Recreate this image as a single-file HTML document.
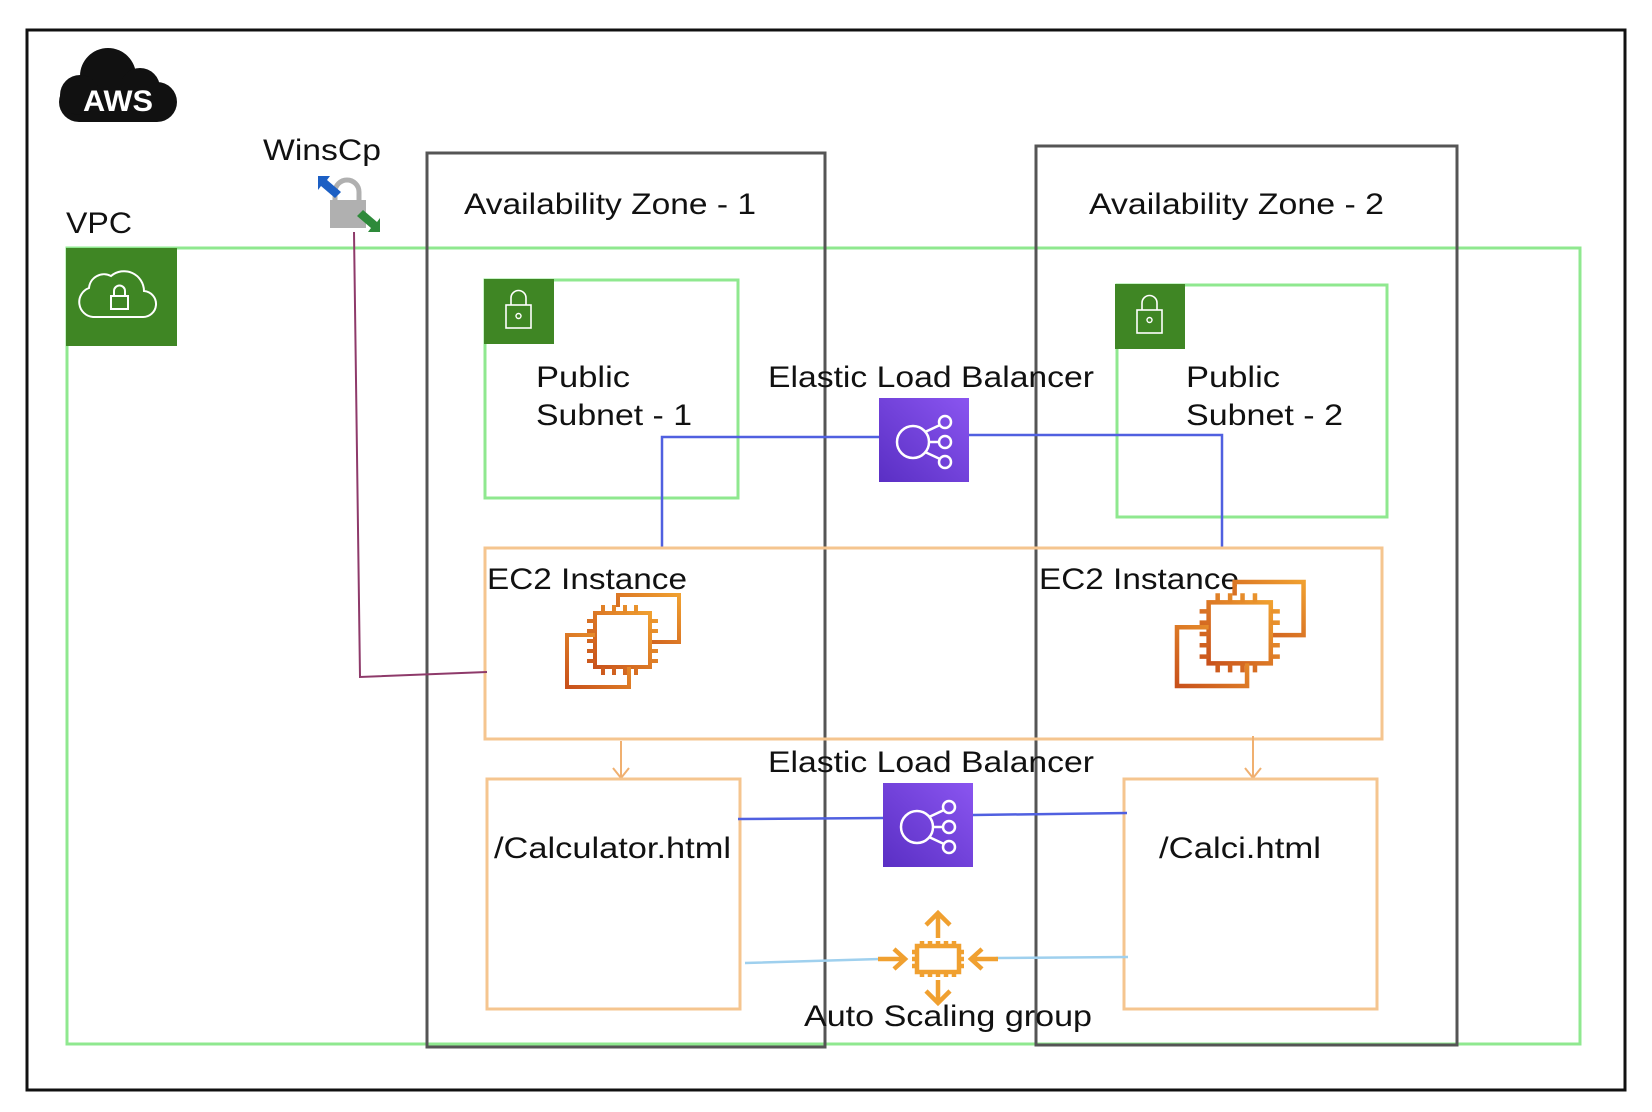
<!DOCTYPE html>
<html><head><meta charset="utf-8"><style>
html,body{margin:0;padding:0;background:#fff;}
svg{display:block;}
text{font-family:"Liberation Sans",sans-serif;fill:#111;}
</style></head><body>
<svg width="1652" height="1112" viewBox="0 0 1652 1112" xmlns="http://www.w3.org/2000/svg">
<defs>
<linearGradient id="pg" x1="0" y1="1" x2="1" y2="0"><stop offset="0" stop-color="#5a2fc4"/><stop offset="1" stop-color="#8a55f0"/></linearGradient>
<linearGradient id="og" x1="0" y1="1" x2="1" y2="0"><stop offset="0" stop-color="#c8511b"/><stop offset="1" stop-color="#f0a030"/></linearGradient>
<g id="ec2" fill="none" stroke="url(#og)" stroke-width="4">
<path d="M51,12 V0 H112 V47 H83"/>
<rect x="28" y="18" width="55" height="54"/>
<path d="M28,40 H0 V92 H62 V72"/>
<path d="M36,18 v-8 M47,18 v-8 M58,18 v-8 M69,18 v-8 M36,72 v8 M47,72 v8 M58,72 v8 M69,72 v8 M28,26 h-8 M28,36 h-8 M28,46 h-8 M28,56 h-8 M28,66 h-8 M83,26 h8 M83,36 h8 M83,56 h8 M83,66 h8"/>
</g>
<g id="elb">
<rect x="0" y="0" width="90" height="84" fill="url(#pg)"/>
<g fill="none" stroke="#fff" stroke-width="2.5">
<circle cx="34" cy="44" r="16"/>
<circle cx="66" cy="24" r="6"/><circle cx="66" cy="44" r="6"/><circle cx="66" cy="64" r="6"/>
<path d="M46,34 L61,27 M50,44 H60 M46,54 L61,61"/>
</g>
</g>
</defs>

<rect x="27" y="30" width="1598" height="1060" fill="none" stroke="#111" stroke-width="3"/>

<!-- AWS cloud -->
<g fill="#111">
<circle cx="108" cy="76" r="28"/>
<circle cx="140" cy="88" r="20"/>
<rect x="59" y="82" width="118" height="40" rx="20"/>
<circle cx="80" cy="95" r="20"/>
</g>
<text x="118" y="111" text-anchor="middle" font-size="30" font-weight="bold" style="fill:#fff" textLength="70" lengthAdjust="spacingAndGlyphs">AWS</text>

<!-- WinsCp -->
<text x="263" y="160" font-size="30" textLength="118" lengthAdjust="spacingAndGlyphs">WinsCp</text>
<path d="M335,204 v-12 a12,12 0 0 1 24,0 v12" fill="none" stroke="#b0b0b0" stroke-width="5"/>
<rect x="330" y="200" width="36" height="28" fill="#b0b0b0"/>
<path d="M318,176 l12,0 l-3,4 l14,12 l-6,6 l-14,-12 l-3,4 z" fill="#1c5fc4"/>
<path d="M380,232 l-12,0 l3,-4 l-14,-12 l6,-6 l14,12 l3,-4 z" fill="#2e8a3a"/>

<!-- VPC -->
<text x="66" y="233" font-size="30" textLength="66" lengthAdjust="spacingAndGlyphs">VPC</text>
<rect x="67" y="248" width="1513" height="796" fill="none" stroke="#8fe88f" stroke-width="3"/>
<rect x="66" y="248" width="111" height="98" fill="#3f8624"/>
<path d="M93,317 h49 a13,13 0 0 0 2,-26 a20,20 0 0 0 -33,-15 a15,15 0 0 0 -22,12 a15,15 0 0 0 4,29 z" fill="none" stroke="#fff" stroke-width="2"/>
<rect x="111" y="296" width="17" height="13" fill="none" stroke="#fff" stroke-width="2"/>
<path d="M114,296 v-5 a5,5 0 0 1 11,0 v5" fill="none" stroke="#fff" stroke-width="2"/>

<!-- AZ boxes -->
<rect x="427" y="153" width="398" height="894" fill="none" stroke="#555" stroke-width="3"/>
<rect x="1036" y="146" width="421" height="899" fill="none" stroke="#555" stroke-width="3"/>
<text x="464" y="214" font-size="30" textLength="292" lengthAdjust="spacingAndGlyphs">Availability Zone - 1</text>
<text x="1089" y="214" font-size="30" textLength="295" lengthAdjust="spacingAndGlyphs">Availability Zone - 2</text>

<!-- subnets -->
<rect x="485" y="280" width="253" height="218" fill="none" stroke="#8fe88f" stroke-width="3"/>
<rect x="484" y="279" width="70" height="65" fill="#3f8624"/>
<rect x="506" y="305" width="25" height="23" fill="none" stroke="#fff" stroke-width="1.6"/>
<path d="M511,305 v-7 a7.5,7.5 0 0 1 15,0 v7" fill="none" stroke="#fff" stroke-width="1.6"/>
<circle cx="518.5" cy="316" r="2.5" fill="none" stroke="#fff" stroke-width="1.4"/>
<text x="536" y="387" font-size="30" textLength="94" lengthAdjust="spacingAndGlyphs">Public</text>
<text x="536" y="425" font-size="30" textLength="156" lengthAdjust="spacingAndGlyphs">Subnet - 1</text>

<rect x="1117" y="285" width="270" height="232" fill="none" stroke="#8fe88f" stroke-width="3"/>
<rect x="1115" y="284" width="70" height="65" fill="#3f8624"/>
<rect x="1137" y="310" width="25" height="23" fill="none" stroke="#fff" stroke-width="1.6"/>
<path d="M1142,310 v-7 a7.5,7.5 0 0 1 15,0 v7" fill="none" stroke="#fff" stroke-width="1.6"/>
<circle cx="1149.5" cy="320" r="2.5" fill="none" stroke="#fff" stroke-width="1.4"/>
<text x="1186" y="387" font-size="30" textLength="94" lengthAdjust="spacingAndGlyphs">Public</text>
<text x="1186" y="425" font-size="30" textLength="157" lengthAdjust="spacingAndGlyphs">Subnet - 2</text>

<!-- ELB 1 -->
<text x="768" y="387" font-size="30" textLength="326" lengthAdjust="spacingAndGlyphs">Elastic Load Balancer</text>
<path d="M662,547 V437 H879 M969,435 H1222 V547" fill="none" stroke="#5060e0" stroke-width="2.5"/>
<use href="#elb" x="879" y="398"/>

<!-- EC2 group -->
<rect x="485" y="548" width="897" height="191" fill="none" stroke="#f5c58f" stroke-width="3"/>
<text x="487" y="589" font-size="30" textLength="200" lengthAdjust="spacingAndGlyphs">EC2 Instance</text>
<text x="1039" y="589" font-size="30" textLength="200" lengthAdjust="spacingAndGlyphs">EC2 Instance</text>
<use href="#ec2" transform="translate(567,595)"/>
<use href="#ec2" transform="translate(1177,582) scale(1.13)"/>

<!-- WinsCp connector -->
<path d="M354,232 L360,677 L487,672" fill="none" stroke="#8e3a6a" stroke-width="2"/>

<!-- down arrows -->
<path d="M621,741 V778 M613,768 L621,778 L629,768" fill="none" stroke="#f0b070" stroke-width="2"/>
<path d="M1253,736 V778 M1245,768 L1253,778 L1261,768" fill="none" stroke="#f0b070" stroke-width="2"/>

<!-- html boxes -->
<rect x="487" y="779" width="253" height="230" fill="none" stroke="#f5c58f" stroke-width="3"/>
<rect x="1124" y="779" width="253" height="230" fill="none" stroke="#f5c58f" stroke-width="3"/>
<text x="494" y="858" font-size="30" textLength="237" lengthAdjust="spacingAndGlyphs">/Calculator.html</text>
<text x="1159" y="858" font-size="30" textLength="162" lengthAdjust="spacingAndGlyphs">/Calci.html</text>

<!-- ELB 2 -->
<text x="768" y="772" font-size="30" textLength="326" lengthAdjust="spacingAndGlyphs">Elastic Load Balancer</text>
<path d="M738,819 L883,818 M973,815 L1127,813" fill="none" stroke="#5060e0" stroke-width="2.5"/>
<use href="#elb" x="883" y="783"/>

<!-- Auto scaling -->
<path d="M745,963 L880,959 M996,958 L1128,957" fill="none" stroke="#9fd0ee" stroke-width="2.5"/>
<g fill="none" stroke="#f0a030" stroke-width="4.5">
<rect x="917" y="946" width="42" height="26"/>
<path d="M922,946 v-5 M930,946 v-5 M938,946 v-5 M946,946 v-5 M954,946 v-5 M922,972 v5 M930,972 v5 M938,972 v5 M946,972 v5 M954,972 v5 M917,952 h-5 M917,959 h-5 M917,966 h-5 M959,952 h5 M959,959 h5 M959,966 h5"/>
<path d="M938,938 V914 M926,925 L938,913 L950,925"/>
<path d="M938,980 V1002 M926,991 L938,1003 L950,991"/>
<path d="M878,959 H904 M894,949 L905,959 L894,969"/>
<path d="M998,959 H972 M982,949 L971,959 L982,969"/>
</g>
<text x="804" y="1026" font-size="30" textLength="288" lengthAdjust="spacingAndGlyphs">Auto Scaling group</text>
</svg>
</body></html>
